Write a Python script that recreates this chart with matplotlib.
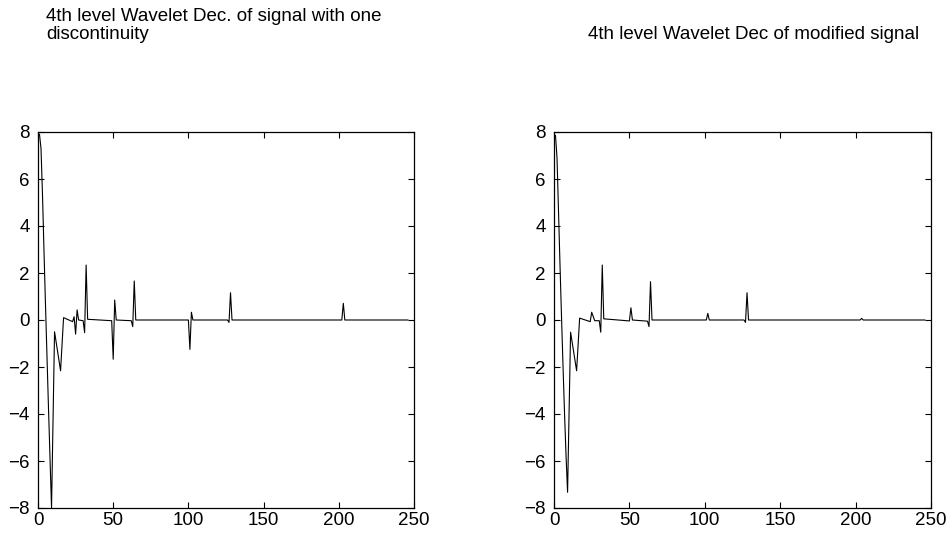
import numpy as np
import matplotlib.pyplot as plt
import matplotlib.ticker as ticker

plt.rcParams['font.family'] = ['Liberation Sans', 'DejaVu Sans']

# vertices of the coefficient vector (index, value)
left_x = [1, 2, 3, 4, 5, 6, 7, 8, 9, 11, 15, 17, 23, 24, 25, 26, 27, 30, 31, 32, 33,
          49, 50, 51, 52, 62, 63, 64, 65, 100, 101, 102, 103, 126, 127, 128, 129,
          202, 203, 204, 246]
left_y = [7.9, 7.3, 5.3, 2.9, 0.6, -1.6, -3.8, -5.9, -8.0, -0.5, -2.16, 0.1, -0.07, 0.14,
          -0.6, 0.43, 0.0, -0.03, -0.54, 2.34, 0.03,
          -0.03, -1.67, 0.85, 0.0, -0.03, -0.28, 1.66, 0.0, 0.0, -1.25, 0.33, 0.0,
          0.0, -0.1, 1.16, 0.0, 0.0, 0.71, 0.0, 0.0]

right_x = [1, 2, 3, 4, 5, 6, 7, 8, 9, 11, 15, 17, 24, 25, 27, 30, 31, 32, 33,
           50, 51, 52, 62, 63, 64, 65, 101, 102, 103, 126, 127, 128, 129,
           203, 204, 205, 246]
right_y = [7.85, 6.9, 4.6, 2.3, 0.1, -2.0, -4.0, -5.8, -7.33, -0.52, -2.16, 0.08, -0.07,
           0.33, -0.03, -0.03, -0.52, 2.34, 0.05,
           -0.04, 0.52, 0.0, -0.05, -0.28, 1.63, 0.0, 0.0, 0.28, 0.0,
           0.0, -0.1, 1.16, 0.0, 0.0, 0.07, 0.0, 0.0]

titles = ["4th level Wavelet Dec. of signal with one\ndiscontinuity",
          "4th level Wavelet Dec of modified signal"]

fig = plt.figure(figsize=(9.49, 5.41), dpi=100)
ax1 = fig.add_axes([38/949, 33/541, 376/949, 376/541])
ax2 = fig.add_axes([554/949, 33/541, 377/949, 376/541])

for ax, xs, ys in [(ax1, left_x, left_y), (ax2, right_x, right_y)]:
    ax.plot(xs, ys, color='black', linewidth=0.8)
    ax.set_xlim(0, 250)
    ax.set_ylim(-8, 8)
    ax.xaxis.set_major_locator(ticker.MultipleLocator(50))
    ax.yaxis.set_major_locator(ticker.MultipleLocator(2))
    ax.tick_params(direction='in', top=True, right=True, length=4, width=0.8,
                   labelsize=13.5)
    ax.tick_params(axis='x', pad=3)
    ax.tick_params(axis='y', pad=6)
    for s in ax.spines.values():
        s.set_linewidth(0.9)

fig.text(46/949, 1 - 43/541, titles[0], ha='left', va='bottom', fontsize=13.5,
         ma='left', linespacing=1.05)
fig.text(588/949, 1 - 43/541, titles[1], ha='left', va='bottom', fontsize=13.5)

fig.savefig('out.png', dpi=100)
